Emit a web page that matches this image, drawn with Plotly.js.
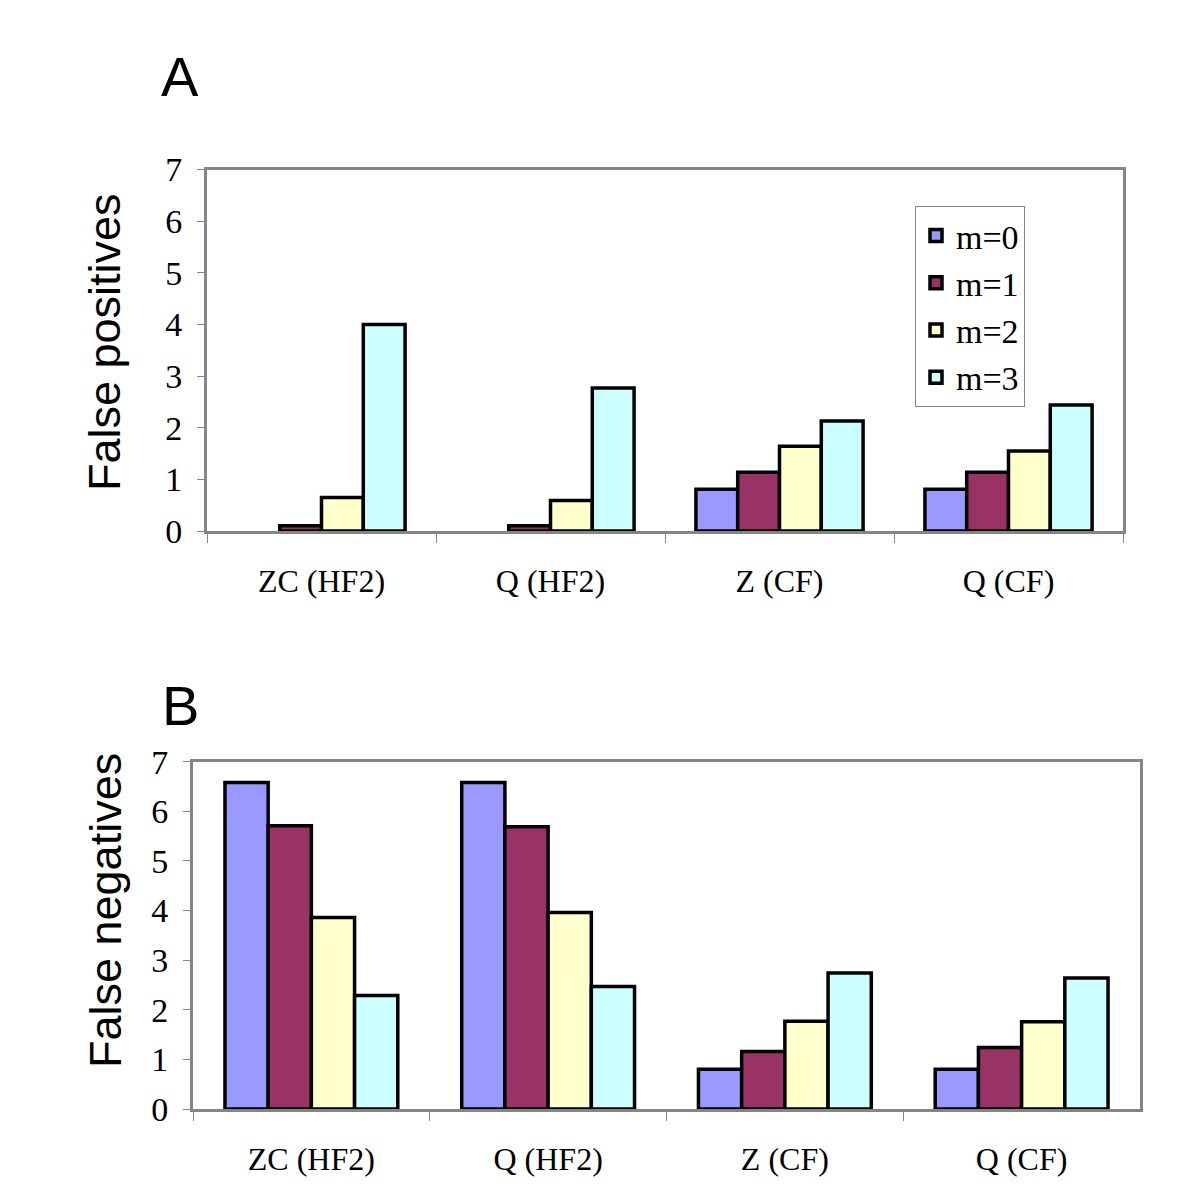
<!DOCTYPE html>
<html>
<head>
<meta charset="utf-8">
<script src="https://cdn.plot.ly/plotly-3.0.1.min.js"></script>
<style>
  html, body { margin: 0; padding: 0; background: #fff; }
  #chart { width: 1200px; height: 1200px; }
</style>
</head>
<body>
<div id="chart"></div>
<script>
// ── Data ──────────────────────────────────────────────────────────────────────

const categories = ['ZC (HF2)', 'Q (HF2)', 'Z (CF)', 'Q (CF)'];
const seriesNames = ['m=0', 'm=1', 'm=2', 'm=3'];

// A: false positives (no m=0 bar is drawn for the HF2 groups)
const fpM0 = [null, null, 0.81, 0.81];
const fpM1 = [0.1,  0.1,  1.14, 1.14];
const fpM2 = [0.65, 0.59, 1.64, 1.55];
const fpM3 = [4.0,  2.77, 2.13, 2.44];

// B: false negatives
const fnM0 = [6.58, 6.58, 0.80, 0.80];
const fnM1 = [5.71, 5.69, 1.16, 1.24];
const fnM2 = [3.86, 3.96, 1.77, 1.76];
const fnM3 = [2.29, 2.47, 2.74, 2.64];

const yTicks = [0, 1, 2, 3, 4, 5, 6, 7];

// ── Style ─────────────────────────────────────────────────────────────────────

const COLORS = ['#9999ff', '#993366', '#ffffcc', '#ccffff'];
const GREY   = '#858585';
const SERIF  = 'Liberation Serif, Times New Roman, serif';
const SANS   = 'Liberation Sans, Arial, sans-serif';

const bar = (y, i, xa, ya, showlegend) => ({
  type: 'bar', x: categories, y, name: seriesNames[i],
  xaxis: xa, yaxis: ya, showlegend,
  marker: { color: COLORS[i], line: { color: '#000', width: 3.5 } },
  hoverinfo: 'x+y+name',
});

const traces = [
  ...[fpM0, fpM1, fpM2, fpM3].map((y, i) => bar(y, i, 'x', 'y', true)),
  ...[fnM0, fnM1, fnM2, fnM3].map((y, i) => bar(y, i, 'x2', 'y2', false)),
];

const xAxis = domain => ({
  domain, type: 'category',
  showline: true, linecolor: GREY, linewidth: 3, mirror: true,
  ticks: 'outside', tickson: 'boundaries', ticklen: 9, tickcolor: GREY, tickwidth: 1,
  tickfont: { family: SERIF, size: 32, color: '#000' },
  ticklabelstandoff: 20,
  showgrid: false, zeroline: false, fixedrange: true,
});

const yAxis = (domain, anchor) => ({
  domain, anchor, range: [0, 7], tickvals: yTicks,
  showline: true, linecolor: GREY, linewidth: 3, mirror: true,
  ticks: 'outside', ticklen: 7, tickcolor: GREY, tickwidth: 1,
  tickfont: { family: SERIF, size: 34, color: '#000' },
  ticklabelstandoff: 8,
  showgrid: false, zeroline: false, fixedrange: true,
});

const label = (text, x, y, size, angle) => ({
  text, x, y, xref: 'paper', yref: 'paper', showarrow: false,
  xanchor: 'center', yanchor: 'middle', textangle: angle || 0,
  font: { family: SANS, size, color: '#000' },
});

const layout = {
  width: 1200, height: 1200,
  margin: { t: 0, b: 0, l: 0, r: 0 },
  paper_bgcolor: '#fff', plot_bgcolor: '#fff',
  barmode: 'group', bargap: 0.27, bargroupgap: 0,
  xaxis:  xAxis([207 / 1200, 1123 / 1200]),
  yaxis:  yAxis([1 - 531 / 1200, 1 - 169.5 / 1200], 'x'),
  xaxis2: { ...xAxis([193 / 1200, 1140 / 1200]), anchor: 'y2' },
  yaxis2: yAxis([1 - 1109 / 1200, 1 - 761.7 / 1200], 'x2'),
  showlegend: true,
  legend: {
    x: 915 / 1200, y: 1 - 206 / 1200, xanchor: 'left', yanchor: 'top',
    bgcolor: '#fff', bordercolor: GREY, borderwidth: 1,
    font: { family: SERIF, size: 34, color: '#000' },
    traceorder: 'normal', tracegroupgap: 0, itemwidth: 30,
  },
  annotations: [
    label('A', 180 / 1200, 1 - 76 / 1200, 56),
    label('B', 180 / 1200, 1 - 705 / 1200, 56),
    label('False positives', 105 / 1200, 1 - 342 / 1200, 45, -90),
    label('False negatives', 105 / 1200, 1 - 911 / 1200, 45, -90),
  ],
};

Plotly.newPlot('chart', traces, layout, { displayModeBar: false, staticPlot: true });
</script>
</body>
</html>
